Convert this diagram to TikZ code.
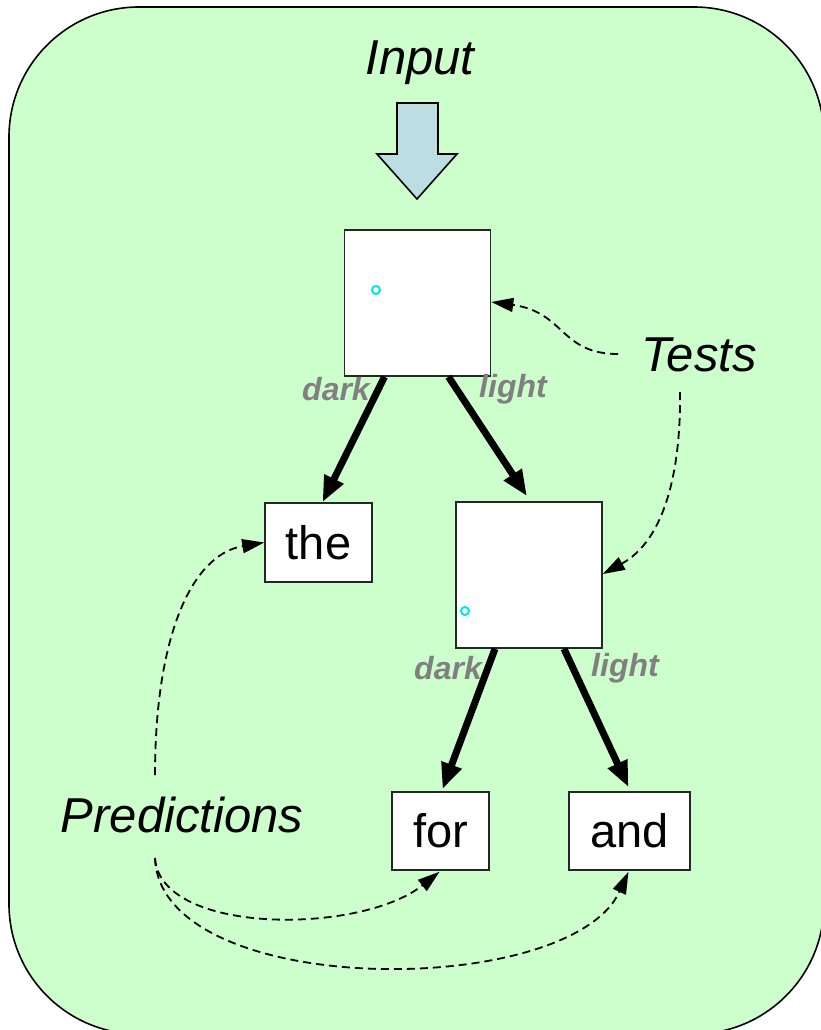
\documentclass[tikz,border=0pt]{standalone}
\usepackage{fontspec}
\setmainfont{Liberation Sans}
\usetikzlibrary{arrows.meta,calc}
\definecolor{bggreen}{RGB}{204,255,204}
\definecolor{arrowblue}{RGB}{188,222,226}
\definecolor{labgray}{RGB}{128,128,128}
\definecolor{cyandot}{RGB}{0,230,240}
\tikzset{
  sq/.style={draw=black!85, line width=1.6pt, fill=white, minimum width=146pt, minimum height=146pt, inner sep=0pt},
  word/.style={draw=black!85, line width=1.6pt, fill=white, inner sep=0pt, font=\fontsize{47}{50}\selectfont},
  big/.style={font=\fontsize{49}{52}\selectfont\itshape},
  branch/.style={font=\fontsize{32}{34}\selectfont\bfseries\itshape, text=labgray},
  thick arrow/.style={line width=7pt, -{Triangle[length=26pt,width=20pt]}},
  dash arrow/.style={line width=1.8pt, dash pattern=on 8pt off 5pt, -{Triangle[length=22pt,width=14pt]}},
  dot/.style={circle, draw=cyandot, line width=2pt, minimum size=8pt, inner sep=0pt}
}
\begin{document}
\begin{tikzpicture}[x=1pt,y=-1pt]
\useasboundingbox (0,0) rectangle (821,1030);
\clip (0,0) rectangle (821,1030);
\draw[fill=bggreen, line width=1.6pt, rounded corners=130pt] (9,7) rectangle (824,1034);

% input arrow
\draw[fill=arrowblue, line width=1.6pt] (397,103) -- (438,103) -- (438,154) -- (457,154) -- (417,199) -- (377,154) -- (397,154) -- cycle;
\node[big] (input) at (420,63) {Input};

% boxes
\node[sq] (top) at (417.5,303) {};
\node[sq] (mid) at (529,575) {};
\node[word, minimum width=107pt, minimum height=79pt] (the) at (318.5,542.5) {the};
\node[word, minimum width=97pt, minimum height=78pt] (for) at (440.5,831) {for};
\node[word, minimum width=121pt, minimum height=78pt] (and) at (629.5,831) {and};

\node[dot] (d1) at (376,290) {};
\node[dot] (d2) at (465,611) {};

% thick arrows
\draw[thick arrow] ($(top.south)+(-33,0)$) -- ($(the.north)+(4,0)$);
\draw[thick arrow] ($(top.south)+(31,0)$) -- ($(mid.north)+(-2,-5)$);
\draw[thick arrow] ($(mid.south)+(-34,0)$) -- ($(for.north)+(2,-2)$);
\draw[thick arrow] ($(mid.south)+(35,0)$) -- ($(and.north)+(-1,-4)$);

\node[branch] (dk1) at (336,389) {dark};
\node[branch] (lt1) at (513,389) {light};
\node[branch] (dk2) at (448,668) {dark};
\node[branch] (lt2) at (625,668) {light};

% labels
\node[big] (tests) at (699,355) {Tests};
\node[big] (pred) at (182,815) {Predictions};

\coordinate (t1) at (618,354);
\coordinate (t2) at (680,392);
\coordinate (p1) at (155,775);
\coordinate (p2) at (155,858);

\draw[dash arrow] (t1) .. controls (560,354) and (565,312) .. ($(top.east)+(0,-1)$);
\draw[dash arrow] (t2) .. controls (681,470) and (665,540) .. ($(mid.east)+(0,-1)$);
\draw[dash arrow] (p1) .. controls (155,640) and (190,555) .. (the.west);
\draw[dash arrow] (p2) .. controls (160,935) and (360,935) .. ($(for.south)+(-1,1)$);
\draw[dash arrow] (p2) .. controls (160,1000) and (570,1000) .. ($(and.south)+(-1,1)$);
\end{tikzpicture}
\end{document}
